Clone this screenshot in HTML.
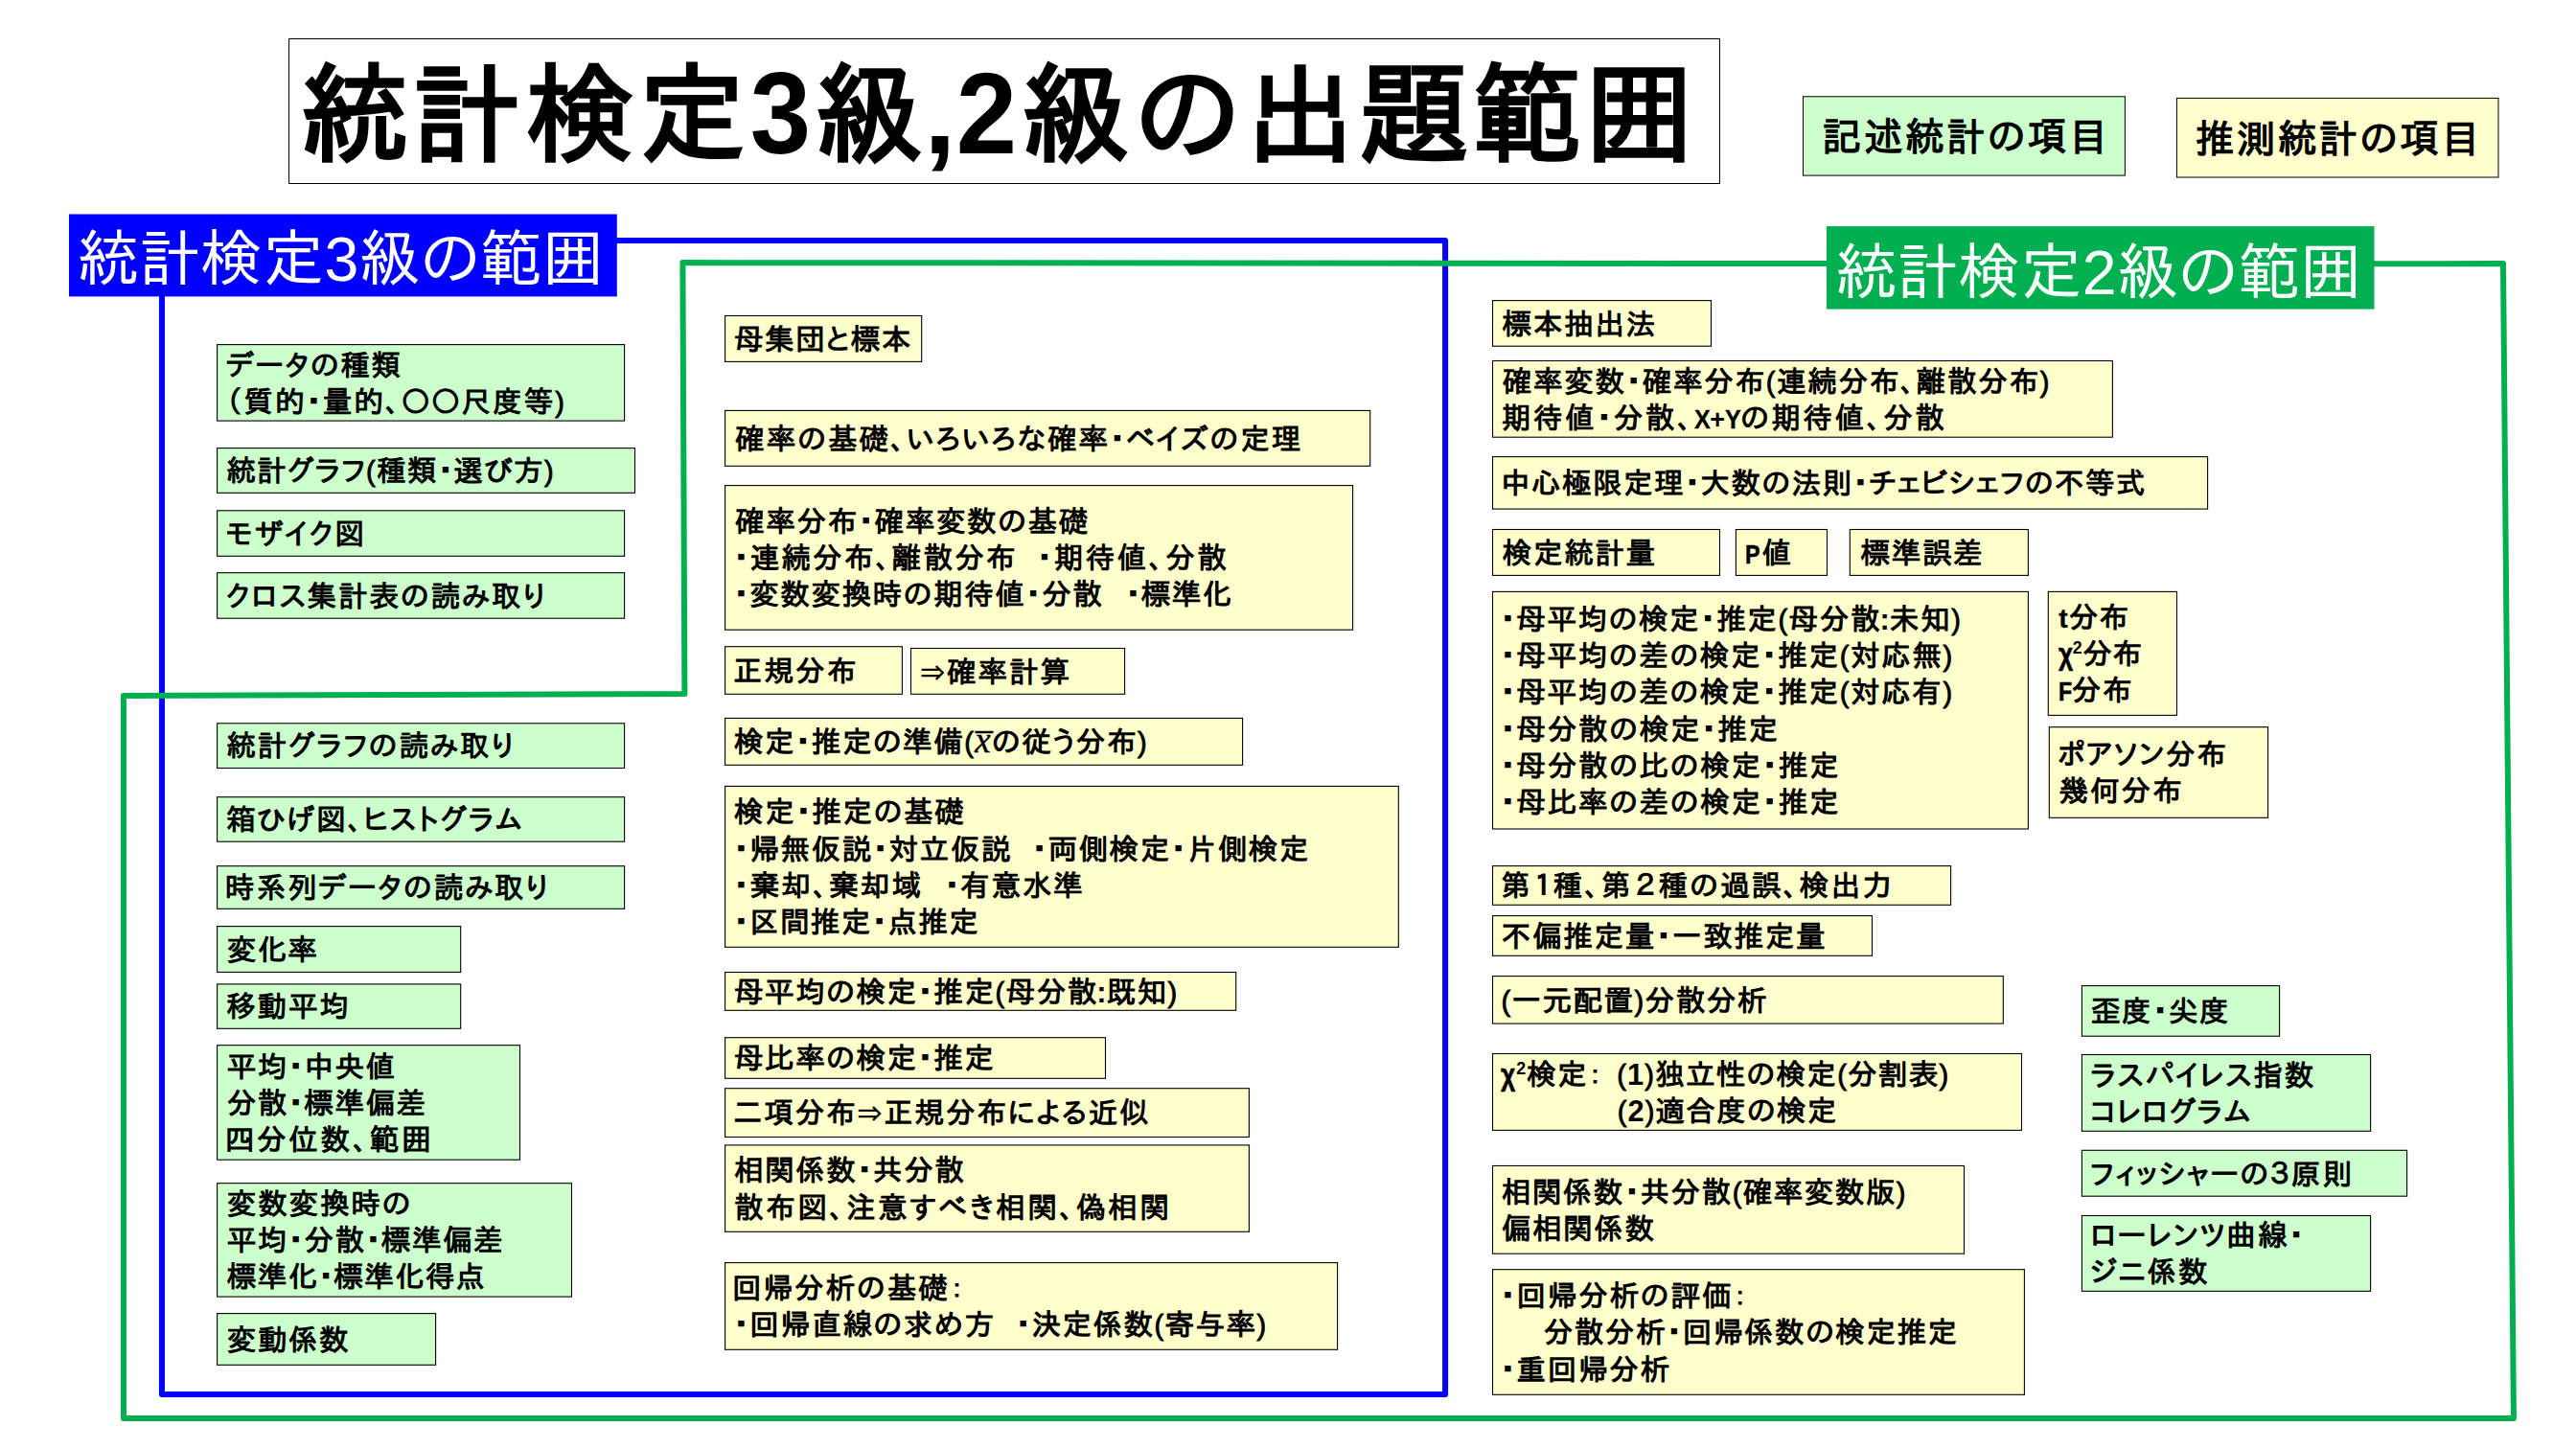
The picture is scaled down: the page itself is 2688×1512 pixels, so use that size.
<!DOCTYPE html>
<html lang="ja"><head><meta charset="utf-8"><title>統計検定3級,2級の出題範囲</title>
<style>
html,body{margin:0;padding:0;background:#fff}
body{position:relative;font-family:"Liberation Sans","IPAPGothic","IPAGothic","Noto Sans CJK JP",sans-serif;color:#000}
.s{position:absolute;white-space:pre;font-weight:bold;font-size:30.7px;line-height:38px;height:38px}
.m{font-family:"Liberation Serif","DejaVu Serif",serif;font-weight:normal;font-size:37px;line-height:0;-webkit-text-stroke:.4px #000}
.n{font-weight:normal}
.l{font-size:27px;letter-spacing:-.3px}
.k{display:inline-block;transform:scaleX(.86);transform-origin:0 50%;margin-right:-.09em;-webkit-text-stroke:.55px #000}
.k2{display:inline-block;transform:scaleX(.93);transform-origin:0 50%;margin-right:-.045em;-webkit-text-stroke:.3px #000}
.lt{font-size:28.5px;-webkit-text-stroke:.3px #000}
.c{margin:0 -1.5px}
.ar{font-weight:normal;font-size:26px;-webkit-text-stroke:.5px #000}
.p{font-weight:normal;font-size:29px;-webkit-text-stroke:.85px #000}
.w{margin:0 1.5px 0 3.5px}
.d{-webkit-text-stroke:1.1px #000}
sup{font-size:58%;line-height:0;vertical-align:baseline;position:relative;top:-0.62em}
.lg{position:absolute;white-space:pre;font-weight:bold;font-size:40.6px;line-height:50px;height:50px}
.hd{position:absolute;white-space:pre;font-size:64.4px;line-height:76px;height:76px;color:#fff}
.tt{position:absolute;white-space:pre;font-weight:bold;font-size:113.0px;line-height:140px;height:140px}

.td{position:absolute;white-space:pre;font-weight:bold;font-size:120.5px;line-height:140px;height:140px}
.bx{position:absolute;box-sizing:border-box;border:1px solid #000}
svg{position:absolute;left:0;top:0}
body{width:2688px;height:1512px;overflow:hidden}
</style></head><body>
<svg width="2688" height="1512" viewBox="0 0 2688 1512">
<rect x="301.5" y="40.5" width="1493" height="151" fill="#fff" stroke="#000" stroke-width="1"/>
<rect x="1881.5" y="100.8" width="335.9" height="82.3" fill="#ccffcc" stroke="#000" stroke-width="1"/>
<rect x="2271.4" y="102.4" width="335.6" height="82.6" fill="#ffffcc" stroke="#000" stroke-width="1"/>
<polyline points="640,251.1 1508.1,251.1 1508.1,1455 168.95,1455 168.95,305" fill="none" stroke="#0000ff" stroke-width="6" stroke-linejoin="round"/>
<polyline points="1910,275 712.4,274.1 714.4,724 128.95,726 128.95,1480 2622.95,1480 2612,275.1 2470,275.2" fill="none" stroke="#00b050" stroke-width="6" stroke-linejoin="round"/>
<rect x="72" y="223.5" width="571.8" height="85.9" fill="#0000ff"/>
<rect x="1906" y="236.1" width="571.5" height="86.5" fill="#00b050"/>
<rect x="226.6" y="359.6" width="425.0" height="79.5" fill="#ccffcc" stroke="#000" stroke-width="1.1"/>
<rect x="226.6" y="467.6" width="435.9" height="46.7" fill="#ccffcc" stroke="#000" stroke-width="1.1"/>
<rect x="226.6" y="532.8" width="425.0" height="47.5" fill="#ccffcc" stroke="#000" stroke-width="1.1"/>
<rect x="226.6" y="597.7" width="425.0" height="47.5" fill="#ccffcc" stroke="#000" stroke-width="1.1"/>
<rect x="226.6" y="754.8" width="425.0" height="46.7" fill="#ccffcc" stroke="#000" stroke-width="1.1"/>
<rect x="226.6" y="831.7" width="425.0" height="46.5" fill="#ccffcc" stroke="#000" stroke-width="1.1"/>
<rect x="226.6" y="903.7" width="425.0" height="44.6" fill="#ccffcc" stroke="#000" stroke-width="1.1"/>
<rect x="226.6" y="966.6" width="254.1" height="47.8" fill="#ccffcc" stroke="#000" stroke-width="1.1"/>
<rect x="226.6" y="1026.9" width="254.1" height="46.4" fill="#ccffcc" stroke="#000" stroke-width="1.1"/>
<rect x="226.6" y="1090.7" width="315.9" height="119.5" fill="#ccffcc" stroke="#000" stroke-width="1.1"/>
<rect x="226.6" y="1234.7" width="369.9" height="118.4" fill="#ccffcc" stroke="#000" stroke-width="1.1"/>
<rect x="226.6" y="1370.6" width="228.0" height="53.7" fill="#ccffcc" stroke="#000" stroke-width="1.1"/>
<rect x="756.6" y="329.5" width="205.1" height="47.9" fill="#ffffcc" stroke="#000" stroke-width="1.1"/>
<rect x="756.6" y="428.4" width="673.1" height="57.9" fill="#ffffcc" stroke="#000" stroke-width="1.1"/>
<rect x="756.6" y="506.6" width="655.0" height="150.6" fill="#ffffcc" stroke="#000" stroke-width="1.1"/>
<rect x="756.6" y="674.7" width="184.8" height="49.6" fill="#ffffcc" stroke="#000" stroke-width="1.1"/>
<rect x="950.5" y="676.5" width="223.1" height="47.8" fill="#ffffcc" stroke="#000" stroke-width="1.1"/>
<rect x="756.6" y="749.4" width="540.0" height="48.9" fill="#ffffcc" stroke="#000" stroke-width="1.1"/>
<rect x="756.6" y="820.4" width="702.7" height="167.9" fill="#ffffcc" stroke="#000" stroke-width="1.1"/>
<rect x="756.6" y="1014.5" width="533.1" height="39.8" fill="#ffffcc" stroke="#000" stroke-width="1.1"/>
<rect x="756.6" y="1082.7" width="396.9" height="42.6" fill="#ffffcc" stroke="#000" stroke-width="1.1"/>
<rect x="756.6" y="1135.7" width="546.8" height="50.8" fill="#ffffcc" stroke="#000" stroke-width="1.1"/>
<rect x="756.6" y="1194.9" width="546.8" height="90.4" fill="#ffffcc" stroke="#000" stroke-width="1.1"/>
<rect x="756.6" y="1317.6" width="639.0" height="90.7" fill="#ffffcc" stroke="#000" stroke-width="1.1"/>
<rect x="1557.5" y="313.6" width="228.0" height="47.6" fill="#ffffcc" stroke="#000" stroke-width="1.1"/>
<rect x="1557.5" y="376.5" width="646.9" height="79.7" fill="#ffffcc" stroke="#000" stroke-width="1.1"/>
<rect x="1557.5" y="476.6" width="746.1" height="54.5" fill="#ffffcc" stroke="#000" stroke-width="1.1"/>
<rect x="1557.5" y="552.5" width="237.0" height="47.9" fill="#ffffcc" stroke="#000" stroke-width="1.1"/>
<rect x="1811.4" y="552.5" width="95.1" height="47.9" fill="#ffffcc" stroke="#000" stroke-width="1.1"/>
<rect x="1930.3" y="552.5" width="186.1" height="47.9" fill="#ffffcc" stroke="#000" stroke-width="1.1"/>
<rect x="1557.5" y="617.4" width="558.9" height="247.6" fill="#ffffcc" stroke="#000" stroke-width="1.1"/>
<rect x="2137.3" y="617.4" width="134.2" height="129.0" fill="#ffffcc" stroke="#000" stroke-width="1.1"/>
<rect x="2138.3" y="758.7" width="228.3" height="94.6" fill="#ffffcc" stroke="#000" stroke-width="1.1"/>
<rect x="1557.5" y="903.6" width="478.1" height="40.7" fill="#ffffcc" stroke="#000" stroke-width="1.1"/>
<rect x="1557.5" y="955.6" width="396.0" height="41.7" fill="#ffffcc" stroke="#000" stroke-width="1.1"/>
<rect x="1557.5" y="1018.6" width="532.8" height="49.5" fill="#ffffcc" stroke="#000" stroke-width="1.1"/>
<rect x="1557.5" y="1099.5" width="552.0" height="79.9" fill="#ffffcc" stroke="#000" stroke-width="1.1"/>
<rect x="1557.5" y="1216.5" width="492.0" height="91.7" fill="#ffffcc" stroke="#000" stroke-width="1.1"/>
<rect x="1557.5" y="1324.7" width="554.9" height="130.6" fill="#ffffcc" stroke="#000" stroke-width="1.1"/>
<rect x="2172.4" y="1028.6" width="206.2" height="52.6" fill="#ccffcc" stroke="#000" stroke-width="1.1"/>
<rect x="2172.4" y="1100.5" width="301.2" height="79.8" fill="#ccffcc" stroke="#000" stroke-width="1.1"/>
<rect x="2172.4" y="1200.3" width="339.2" height="47.9" fill="#ccffcc" stroke="#000" stroke-width="1.1"/>
<rect x="2172.4" y="1268.5" width="301.2" height="78.8" fill="#ccffcc" stroke="#000" stroke-width="1.1"/>
</svg>
<div style="position:absolute;left:0;top:0"><span class="tt" style="left:313.4px;top:51.0px">統</span><span class="tt" style="left:430.1px;top:51.0px">計</span><span class="tt" style="left:549.4px;top:51.0px">検</span><span class="tt" style="left:665.4px;top:51.0px">定</span><span class="td" style="left:781.2px;top:49.0px;transform:scaleX(.945)">3</span><span class="tt" style="left:849.9px;top:51.0px">級</span><span class="td" style="left:963.9px;top:49.0px">,</span><span class="td" style="left:996.2px;top:49.0px;transform:scaleX(.945)">2</span><span class="tt" style="left:1065.4px;top:51.0px">級</span><span class="tt" style="left:1184.5px;top:51.0px">の</span><span class="tt" style="left:1300.6px;top:51.0px">出</span><span class="tt" style="left:1419.3px;top:51.0px">題</span><span class="tt" style="left:1536.9px;top:51.0px">範</span><span class="tt" style="left:1653.9px;top:51.0px">囲</span></div>
<div class="hd" style="left:80.50px;top:232.70px;letter-spacing:0.088px">統計検定3級の範囲</div>
<div class="hd" style="left:1914.90px;top:246.50px;letter-spacing:0.075px">統計検定2級の範囲</div>
<div class="lg" style="left:1901.70px;top:117.95px;letter-spacing:2.500px">記述統計の項目</div>
<div class="lg" style="left:2290.70px;top:119.70px;letter-spacing:2.383px">推測統計の項目</div>
<div class="s" style="left:236.00px;top:362.53px;letter-spacing:1.600px">データの種類</div>
<div class="s" style="left:235.70px;top:400.78px;letter-spacing:1.850px">（質的<b class=d>・</b>量的、〇〇尺度等<span class=p>)</span></div>
<div class="s" style="left:236.00px;top:473.25px;letter-spacing:1.283px">統計グラフ<span class=p>(</span>種類<b class=d>・</b>選び方<span class=p>)</span></div>
<div class="s" style="left:236.00px;top:538.85px;letter-spacing:1.975px">モザイク図</div>
<div class="s" style="left:236.00px;top:603.75px;letter-spacing:1.800px">クロス集計表の読み取り</div>
<div class="s" style="left:236.00px;top:760.45px;letter-spacing:1.844px">統計グラフの読み取り</div>
<div class="s" style="left:236.00px;top:837.25px;letter-spacing:1.780px">箱ひげ図、ヒストグラム</div>
<div class="s" style="left:235.00px;top:908.30px;letter-spacing:1.810px">時系列データの読み取り</div>
<div class="s" style="left:236.80px;top:972.80px;letter-spacing:1.050px">変化率</div>
<div class="s" style="left:236.00px;top:1032.40px;letter-spacing:1.767px">移動平均</div>
<div class="s" style="left:236.80px;top:1094.50px;letter-spacing:1.300px">平均<b class=d>・</b>中央値</div>
<div class="s" style="left:236.80px;top:1132.75px;letter-spacing:1.300px">分散<b class=d>・</b>標準偏差</div>
<div class="s" style="left:234.80px;top:1171.00px;letter-spacing:2.583px">四分位数、範囲</div>
<div class="s" style="left:236.80px;top:1237.95px;letter-spacing:1.720px">変数変換時の</div>
<div class="s" style="left:236.80px;top:1276.20px;letter-spacing:1.300px">平均<b class=d>・</b>分散<b class=d>・</b>標準偏差</div>
<div class="s" style="left:237.00px;top:1314.45px;letter-spacing:1.025px">標準化<b class=d>・</b>標準化得点</div>
<div class="s" style="left:236.80px;top:1379.75px;letter-spacing:1.400px">変動係数</div>
<div class="s" style="left:766.10px;top:335.75px;letter-spacing:1.320px">母集団と標本</div>
<div class="s" style="left:767.10px;top:439.65px;letter-spacing:1.884px">確率の基礎、いろいろな確率<b class=d>・</b>ベイズの定理</div>
<div class="s" style="left:767.10px;top:525.95px;letter-spacing:1.482px">確率分布<b class=d>・</b>確率変数の基礎</div>
<div class="s" style="left:765.40px;top:564.20px;letter-spacing:1.989px"><b class=d>・</b>連続分布、離散分布</div>
<div class="s" style="left:1082.00px;top:564.20px;letter-spacing:2.283px"><b class=d>・</b>期待値、分散</div>
<div class="s" style="left:765.40px;top:602.45px;letter-spacing:1.433px"><b class=d>・</b>変数変換時の期待値<b class=d>・</b>分散</div>
<div class="s" style="left:1174.60px;top:602.45px;letter-spacing:1.100px"><b class=d>・</b>標準化</div>
<div class="s" style="left:765.00px;top:681.80px;letter-spacing:1.867px">正規分布</div>
<div class="s" style="left:960.20px;top:682.70px;letter-spacing:1.800px"><span class=ar>⇒</span>確率計算</div>
<div class="s" style="left:766.00px;top:756.15px;letter-spacing:1.360px">検定<b class=d>・</b>推定の準備<span class=p>(</span><i class=m>x̅</i>の従う分布<span class=p>)</span></div>
<div class="s" style="left:766.00px;top:829.27px;letter-spacing:1.514px">検定<b class=d>・</b>推定の基礎</div>
<div class="s" style="left:765.40px;top:867.52px;letter-spacing:1.433px"><b class=d>・</b>帰無仮説<b class=d>・</b>対立仮説</div>
<div class="s" style="left:1076.70px;top:867.52px;letter-spacing:1.400px"><b class=d>・</b>両側検定<b class=d>・</b>片側検定</div>
<div class="s" style="left:765.40px;top:905.77px;letter-spacing:1.933px"><b class=d>・</b>棄却、棄却域</div>
<div class="s" style="left:985.40px;top:905.77px;letter-spacing:1.575px"><b class=d>・</b>有意水準</div>
<div class="s" style="left:765.40px;top:944.02px;letter-spacing:1.250px"><b class=d>・</b>区間推定<b class=d>・</b>点推定</div>
<div class="s" style="left:766.00px;top:1016.70px;letter-spacing:1.394px">母平均の検定<b class=d>・</b>推定<span class=p>(</span>母分散<span class=c>:</span>既知<span class=p>)</span></div>
<div class="s" style="left:766.00px;top:1086.30px;letter-spacing:1.387px">母比率の検定<b class=d>・</b>推定</div>
<div class="s" style="left:765.00px;top:1143.40px;letter-spacing:1.677px">二項分布<span class=ar>⇒</span>正規分布による近似</div>
<div class="s" style="left:766.00px;top:1203.27px;letter-spacing:1.400px">相関係数<b class=d>・</b>共分散</div>
<div class="s" style="left:766.00px;top:1241.52px;letter-spacing:2.386px">散布図、注意すべき相関、偽相関</div>
<div class="s" style="left:764.00px;top:1326.12px;letter-spacing:1.843px">回帰分析の基礎<span class=n>：</span></div>
<div class="s" style="left:765.40px;top:1364.37px;letter-spacing:1.587px"><b class=d>・</b>回帰直線の求め方</div>
<div class="s" style="left:1059.80px;top:1364.37px;letter-spacing:1.322px"><b class=d>・</b>決定係数<span class=p>(</span>寄与率<span class=p>)</span></div>
<div class="s" style="left:1567.80px;top:319.70px;letter-spacing:1.475px">標本抽出法</div>
<div class="s" style="left:1567.80px;top:379.53px;letter-spacing:1.558px">確率変数<b class=d>・</b>確率分布<span class=p>(</span>連続分布、離散分布<span class=p>)</span></div>
<div class="s" style="left:1566.80px;top:417.78px;letter-spacing:2.385px">期待値<b class=d>・</b>分散、<span class=l><span class=k2>X</span>+<span class=k2>Y</span></span>の期待値、分散</div>
<div class="s" style="left:1566.00px;top:486.15px;letter-spacing:1.295px">中心極限定理<b class=d>・</b>大数の法則<b class=d>・</b>チェビシェフの不等式</div>
<div class="s" style="left:1567.80px;top:558.75px;letter-spacing:1.475px">検定統計量</div>
<div class="s" style="left:1820.70px;top:558.75px;letter-spacing:0.000px"><span class=l style="margin-right:2.4px"><span class=k>P</span></span>値</div>
<div class="s" style="left:1941.70px;top:558.75px;letter-spacing:1.433px">標準誤差</div>
<div class="s" style="left:1565.40px;top:627.88px;letter-spacing:1.476px"><b class=d>・</b>母平均の検定<b class=d>・</b>推定<span class=p>(</span>母分散<span class=c>:</span>未知<span class=p>)</span></div>
<div class="s" style="left:1565.40px;top:666.12px;letter-spacing:1.544px"><b class=d>・</b>母平均の差の検定<b class=d>・</b>推定<span class=p>(</span>対応無<span class=p>)</span></div>
<div class="s" style="left:1565.40px;top:704.38px;letter-spacing:1.544px"><b class=d>・</b>母平均の差の検定<b class=d>・</b>推定<span class=p>(</span>対応有<span class=p>)</span></div>
<div class="s" style="left:1565.40px;top:742.62px;letter-spacing:1.622px"><b class=d>・</b>母分散の検定<b class=d>・</b>推定</div>
<div class="s" style="left:1565.40px;top:780.88px;letter-spacing:1.600px"><b class=d>・</b>母分散の比の検定<b class=d>・</b>推定</div>
<div class="s" style="left:1565.40px;top:819.12px;letter-spacing:1.600px"><b class=d>・</b>母比率の差の検定<b class=d>・</b>推定</div>
<div class="s" style="left:2148.30px;top:625.95px;letter-spacing:0.850px"><span class=lt>t</span>分布</div>
<div class="s" style="left:2147.50px;top:664.20px;letter-spacing:0.433px"><span class=k>χ</span><sup>2</sup>分布</div>
<div class="s" style="left:2148.00px;top:702.45px;letter-spacing:1.400px"><span class=l><span class=k>F</span></span>分布</div>
<div class="s" style="left:2147.00px;top:769.17px;letter-spacing:1.700px">ポアソン分布</div>
<div class="s" style="left:2148.60px;top:807.42px;letter-spacing:1.800px">幾何分布</div>
<div class="s" style="left:1565.80px;top:906.25px;letter-spacing:2.015px">第<span class=w>１</span>種、第<span class=w>２</span>種の過誤、検出力</div>
<div class="s" style="left:1566.80px;top:958.75px;letter-spacing:1.560px">不偏推定量<b class=d>・</b>一致推定量</div>
<div class="s" style="left:1566.40px;top:1025.65px;letter-spacing:1.356px"><span class=p>(</span>一元配置<span class=p>)</span>分散分析</div>
<div class="s" style="left:1566.10px;top:1102.62px;letter-spacing:1.100px"><span class=k>χ</span><sup>2</sup>検定<span class=n>：</span></div>
<div class="s" style="left:1687.20px;top:1102.62px;letter-spacing:1.154px"><span class=p>(</span>1<span class=p>)</span>独立性の検定<span class=p>(</span>分割表<span class=p>)</span></div>
<div class="s" style="left:1687.70px;top:1140.88px;letter-spacing:1.150px"><span class=p>(</span>2<span class=p>)</span>適合度の検定</div>
<div class="s" style="left:1566.80px;top:1225.52px;letter-spacing:1.329px">相関係数<b class=d>・</b>共分散<span class=p>(</span>確率変数版<span class=p>)</span></div>
<div class="s" style="left:1566.80px;top:1263.77px;letter-spacing:1.475px">偏相関係数</div>
<div class="s" style="left:1565.40px;top:1334.05px;letter-spacing:1.675px"><b class=d>・</b>回帰分析の評価<span class=n>：</span></div>
<div class="s" style="left:1610.70px;top:1372.30px;letter-spacing:1.400px">分散分析<b class=d>・</b>回帰係数の検定推定</div>
<div class="s" style="left:1565.40px;top:1410.55px;letter-spacing:1.600px"><b class=d>・</b>重回帰分析</div>
<div class="s" style="left:2182.00px;top:1037.20px;letter-spacing:1.400px">歪度<b class=d>・</b>尖度</div>
<div class="s" style="left:2181.40px;top:1103.58px;letter-spacing:1.771px">ラスパイレス指数</div>
<div class="s" style="left:2181.00px;top:1141.83px;letter-spacing:1.560px">コレログラム</div>
<div class="s" style="left:2181.00px;top:1206.55px;letter-spacing:1.911px">フィッシャーの３原則</div>
<div class="s" style="left:2181.30px;top:1271.08px;letter-spacing:1.814px">ローレンツ曲線<b class=d>・</b></div>
<div class="s" style="left:2181.00px;top:1309.33px;letter-spacing:1.800px">ジニ係数</div>
</body></html>
